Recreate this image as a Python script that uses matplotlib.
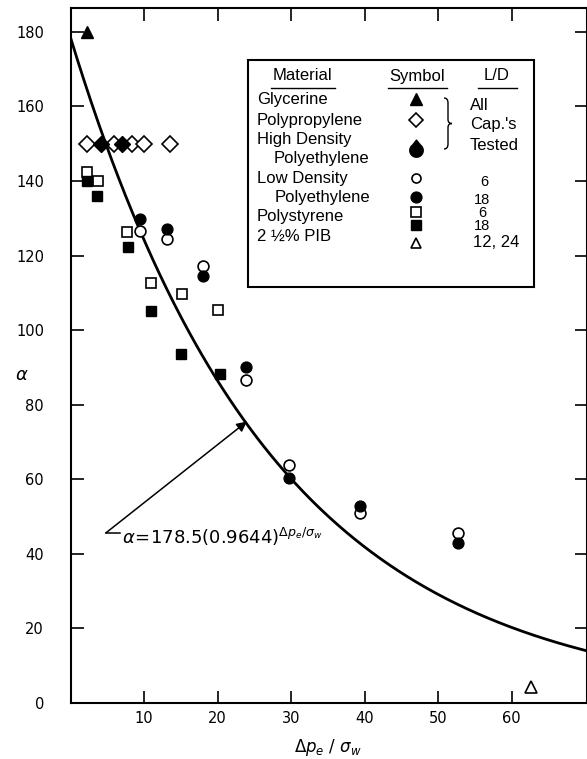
import numpy as np
import matplotlib
matplotlib.use("Agg")
from matplotlib import pyplot as plt
from matplotlib.path import Path
from matplotlib.patches import PathPatch, Rectangle

# values
glycerine_x = [2.3]
glycerine_y = [180.0]

pp_x = [2.3, 5.9, 8.4, 10.0, 13.6]
pp_y = [150, 150, 150, 150, 150]

hdpe_x = [4.2, 7.0]
hdpe_y = [150, 150]

ldpe6_x = [9.4, 13.1, 18.0, 23.9, 29.7, 39.4, 52.7]
ldpe6_y = [126.7, 124.4, 117.2, 86.6, 63.8, 51.0, 45.5]
ldpe18_x = [9.4, 13.1, 18.0, 23.9, 29.7, 39.4, 52.7]
ldpe18_y = [129.8, 127.1, 114.6, 90.0, 60.3, 52.8, 43.0]

ps6_x = [2.3, 3.7, 7.7, 11.0, 15.2, 20.1]
ps6_y = [142.3, 140.0, 126.4, 112.6, 109.7, 105.4]
ps18_x = [2.3, 3.6, 7.8, 11.0, 15.1, 20.3]
ps18_y = [139.9, 136.1, 122.2, 105.2, 93.6, 88.2]

pib_x = [62.7]
pib_y = [4.4]

# fitted curve  alpha = a * b ** x
fit_a = 178.5
fit_b = 0.9644

xticks = [10, 20, 30, 40, 50, 60]
yticks = [0, 20, 40, 60, 80, 100, 120, 140, 160, 180]

materials = ["Glycerine", "Polypropylene", "High Density", "Polyethylene",
             "Low Density", "Polyethylene", "Polystyrene", "2 \u00bd% PIB"]
ld_values = ["6", "18", "6", "18", "12, 24"]

W, H = 587, 759
fig = plt.figure(figsize=(W / 100, H / 100), dpi=100)
ax = fig.add_axes([70.5 / W, 56 / H, 516 / W, 695 / H])

# drop shaped marker (circle with a point on top) for HDPE in the key
t = np.radians(np.linspace(55, -235, 40))
drop = np.vstack([np.column_stack([np.cos(t), np.sin(t)]), [[0, 1.55]], [[np.cos(t[0]), np.sin(t[0])]]])
drop_marker = Path(drop)

xs = np.linspace(0, 70.2, 300)
ax.plot(xs, fit_a * fit_b ** xs, color="black", lw=2.0, zorder=2)

open_kw = dict(linestyle="none", markerfacecolor="white", markeredgecolor="black", markeredgewidth=1.2, zorder=3)
fill_kw = dict(linestyle="none", color="black", zorder=4)

ax.plot(pp_x, pp_y, marker="D", markersize=7.8, **open_kw)
ax.plot(hdpe_x, hdpe_y, marker="D", markersize=8.3, **fill_kw)
ax.plot(glycerine_x, glycerine_y, marker="^", markersize=8.5, **fill_kw)
ax.plot(ps6_x, ps6_y, marker="s", markersize=7.8, **open_kw)
ax.plot(ps18_x, ps18_y, marker="s", markersize=7.8, **fill_kw)
ax.plot(ldpe18_x, ldpe18_y, marker="o", markersize=7.8, **fill_kw)
ax.plot(ldpe6_x, ldpe6_y, marker="o", markersize=7.8, **open_kw)
ax.plot(pib_x, pib_y, marker="^", markersize=9, **open_kw)

ax.set_xlim(0, 70.2)
ax.set_ylim(0, 186.4)
ax.set_xticks(xticks)
ax.set_yticks(yticks)
ax.tick_params(direction="in", length=9, width=1.2, top=True, right=True, labelsize=10.5)
ax.tick_params(axis="y", pad=19)
ax.tick_params(axis="x", pad=6)
for s in ax.spines.values():
    s.set_linewidth(1.5)

# equation with arrow to the curve
ax.annotate("", xy=(24.0, 75.5), xytext=(4.8, 45.6),
            arrowprops=dict(arrowstyle="-|>", lw=1.1, color="black", mutation_scale=15,
                            shrinkA=0, shrinkB=0))
ax.plot([4.8, 6.7], [45.6, 45.6], color="black", lw=1.1)
ax.text(7.0, 44.6, r"$\alpha\!=\!178.5(0.9644)^{\Delta p_e/\sigma_w}$", fontsize=13, va="center")

fig.text(328.5 / W, 1 - 748 / H, r"$\Delta p_e\ /\ \sigma_w$", fontsize=12, ha="center", va="center")
fig.text(22 / W, 1 - 375 / H, r"$\alpha$", fontsize=13, ha="center", va="center")

# key box, drawn in its own pixel-like coordinates
lax = fig.add_axes([248 / W, 1 - 287 / H, 286 / W, 227 / H])
lax.set_xlim(0, 286)
lax.set_ylim(227, 0)
lax.axis("off")
lax.add_patch(Rectangle((0, 0), 286, 227, fill=False, lw=1.5, clip_on=False))

fk = dict(fontsize=12, family="Liberation Sans", va="center")
for label, cx, x0, x1 in [("Material", 54, 23, 87), ("Symbol", 169, 140, 199), ("L/D", 249, 230, 269)]:
    lax.text(cx, 16, label, ha="center", **fk)
    lax.plot([x0, x1], [27.5, 27.5], color="black", lw=1.0)

rows_y = [39.3, 60, 79.3, 98.3, 118.3, 137.3, 156.7, 176.7]
rows_x = [8.7, 8.7, 8.7, 25.5, 8.7, 27, 8.7, 8.7]
for name, x, y in zip(materials, rows_x, rows_y):
    lax.text(x, y, name, ha="left", **fk)

sx = 168
lax.plot(sx, 39.3, marker="^", markersize=8, **fill_kw)
lax.plot(sx, 60, marker="D", markersize=7, **open_kw)
lax.plot(sx, 90, marker=drop_marker, markersize=15, **fill_kw)
lax.plot(sx, 118.3, marker="o", markersize=6.5, **open_kw)
lax.plot(sx, 137.3, marker="o", markersize=7.8, **fill_kw)
lax.plot(sx, 151.7, marker="s", markersize=7, **open_kw)
lax.plot(sx, 164.5, marker="s", markersize=7.8, **fill_kw)
lax.plot(sx, 182.7, marker="^", markersize=7.5, **open_kw)

# curly brace
bx, top, bot = 196, 38, 89
mid = (top + bot) / 2
verts = [(bx, top), (bx + 4, top), (bx + 4, top + 5),
         (bx + 4, mid - 4), (bx + 4, mid), (bx + 8, mid),
         (bx + 4, mid), (bx + 4, mid + 4),
         (bx + 4, bot - 5), (bx + 4, bot), (bx, bot)]
codes = [Path.MOVETO, Path.CURVE3, Path.CURVE3,
         Path.LINETO, Path.CURVE3, Path.CURVE3,
         Path.CURVE3, Path.CURVE3,
         Path.LINETO, Path.CURVE3, Path.CURVE3]
lax.add_patch(PathPatch(Path(verts, codes), fill=False, lw=1.0))

lax.text(222, 45, "All", ha="left", **fk)
lax.text(222, 65, "Cap.'s", ha="left", **fk)
lax.text(222, 85, "Tested", ha="left", **fk)
ld_kw = dict(fk, fontsize=10.5)
for label, x, y in zip(ld_values, [236, 234, 234, 234, 248], [122.5, 140.5, 153, 165.5, 182.7]):
    lax.text(x, y, label, ha="center", **(ld_kw if len(label) < 3 else fk))

fig.savefig("out.png", dpi=100)
